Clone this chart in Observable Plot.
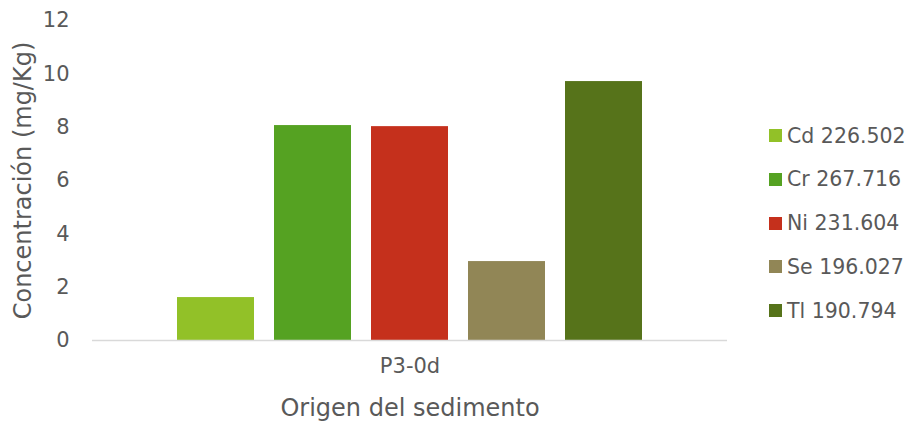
<!DOCTYPE html>
<html>
<head>
<meta charset="utf-8">
<script src="https://cdn.jsdelivr.net/npm/d3@7"></script>
<script src="https://cdn.jsdelivr.net/npm/@observablehq/plot@0.6"></script>
<style>
  body { margin: 0; background: #fff; }
  #chart { position: relative; width: 907px; height: 422px; font-family: "DejaVu Sans", sans-serif; color: #595959; }
  #legend { position: absolute; left: 769px; top: 0; font-size: 20.5px; }
  .item { position: absolute; left: 0; display: flex; align-items: center; white-space: nowrap; transform: translateY(-50%); }
  .swatch { width: 13px; height: 13px; margin-right: 5px; flex: none; }
</style>
</head>
<body>
<div id="chart"></div>
<script>
// Sediment sample and measured concentrations per element (emission line, nm)
const samples = ["P3-0d"];
const elements = ["Cd 226.502", "Cr 267.716", "Ni 231.604", "Se 196.027", "Tl 190.794"];
const concentrations = [1.61, 8.06, 8.02, 2.96, 9.71];
const palette = ["#92c128", "#55a222", "#c5301c", "#918656", "#56731a"];
const yTicks = [0, 2, 4, 6, 8, 10, 12];

const rows = elements.map((element, i) => ({ sample: samples[0], element, value: concentrations[i] }));

const chart = Plot.plot({
  width: 907,
  height: 422,
  marginLeft: 92,
  marginRight: 180,
  marginTop: 20,
  marginBottom: 82,
  style: { fontFamily: "'DejaVu Sans', sans-serif", color: "#595959", background: "#fff" },
  fx: { domain: samples, padding: 0 },
  x: { domain: elements, paddingInner: 0.21, paddingOuter: 0.86, axis: null },
  y: { domain: [0, 12] },
  color: { domain: elements, range: palette },
  marks: [
    Plot.barY(rows, { fx: "sample", x: "element", y: "value", fill: "element" }),
    Plot.ruleY([0], { stroke: "#d9d9d9", strokeWidth: 1.5 }),
    // tick labels
    Plot.axisY({ ticks: yTicks, tickSize: 0, tickPadding: 23, fontSize: 21, label: null }),
    Plot.axisFx({ anchor: "bottom", tickSize: 0, tickPadding: 18, fontSize: 21, label: null }),
    // axis titles
    Plot.axisY({
      ticks: [], tickSize: 0, fontSize: 24,
      label: "Concentración (mg/Kg)", labelAnchor: "center", labelArrow: "none", labelOffset: 79
    }),
    Plot.axisFx({
      anchor: "bottom", ticks: [], tickSize: 0, fontSize: 24,
      label: "Origen del sedimento", labelAnchor: "center", labelOffset: 75
    })
  ]
});

const root = document.getElementById("chart");
root.appendChild(chart);

// Legend to the right of the plot area
const legend = document.createElement("div");
legend.id = "legend";
elements.forEach((name, i) => {
  const item = document.createElement("div");
  item.className = "item";
  item.style.top = (135.5 + i * 43.75) + "px";
  const sw = document.createElement("span");
  sw.className = "swatch";
  sw.style.background = palette[i];
  const label = document.createElement("span");
  label.textContent = name;
  item.appendChild(sw);
  item.appendChild(label);
  legend.appendChild(item);
});
root.appendChild(legend);
</script>
</body>
</html>
